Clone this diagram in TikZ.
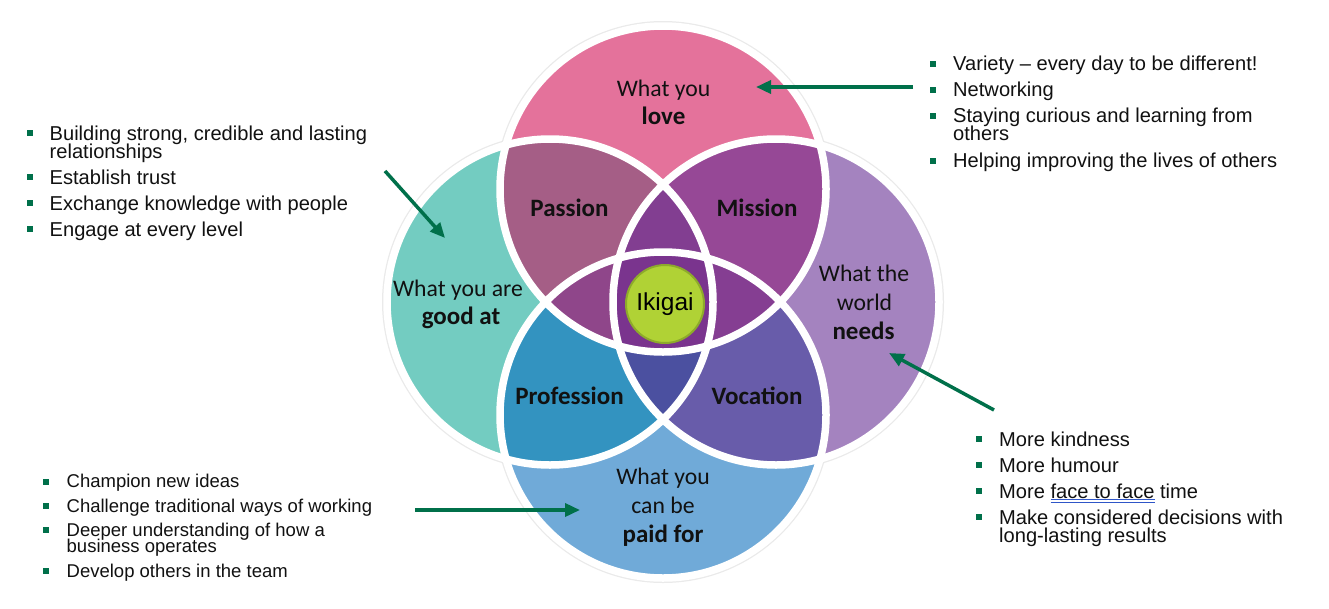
\documentclass[tikz,border=0pt]{standalone}
\usepackage{fontspec}
\setmainfont{Liberation Sans}
\newfontfamily\calfont{Carlito}
\usetikzlibrary{arrows.meta}
\definecolor{cTop}{HTML}{E4729B}
\definecolor{cLeft}{HTML}{73CCC1}
\definecolor{cRight}{HTML}{A483BF}
\definecolor{cBot}{HTML}{70AAD8}
\definecolor{cTL}{HTML}{A55E86}
\definecolor{cTR}{HTML}{964896}
\definecolor{cBL}{HTML}{3393C0}
\definecolor{cBR}{HTML}{685CAA}
\definecolor{cTLR}{HTML}{823E91}
\definecolor{cTLB}{HTML}{8F468A}
\definecolor{cTRB}{HTML}{853E92}
\definecolor{cBLR}{HTML}{4B50A0}
\definecolor{cAll}{HTML}{7A348E}
\definecolor{ikfill}{HTML}{B0D235}
\definecolor{ikline}{HTML}{8DAA2B}
\definecolor{agreen}{HTML}{00704A}
\definecolor{txt}{HTML}{111111}
\definecolor{ulblue}{HTML}{2F56C8}
\definecolor{halo}{HTML}{EAEAEA}
\newcommand\dblul[1]{\setbox0=\hbox{#1}\rlap{\color{ulblue}\rule[-2pt]{\wd0}{0.7pt}}\rlap{\color{ulblue}\rule[-4.3pt]{\wd0}{0.7pt}}\box0\relax}
\def\CT{(663,189) circle (163pt)}
\def\CB{(663,415) circle (163pt)}
\def\CL{(550,302) circle (163pt)}
\def\CR{(776,302) circle (163pt)}
\begin{document}
\begin{tikzpicture}[x=1pt,y=-1pt,
  bt/.style={anchor=base west, inner sep=0pt, text=txt, font=\fontsize{20.1}{20}\selectfont},
  bts/.style={anchor=base west, inner sep=0pt, text=txt, font=\fontsize{18.5}{19}\selectfont},
  sq/.style={fill=agreen, minimum size=6pt, inner sep=0pt, outer sep=0pt},
  lbl/.style={anchor=base, inner sep=0pt, text=txt, font=\calfont\fontsize{23.7}{24}\selectfont},
  lblb/.style={anchor=base, inner sep=0pt, text=txt, font=\calfont\bfseries\fontsize{25}{25}\selectfont},
  wline/.style={draw=white, line width=7.5pt},
  haloline/.style={draw=halo, line width=10pt},
  garrow/.style={draw=agreen, line width=3.5pt, -{Triangle[length=15pt,width=13pt]}},
  ikig/.style={circle, fill=ikfill, draw=ikline, line width=2pt, minimum size=78pt, inner sep=0pt, text=black, font=\fontsize{24.5}{25}\selectfont}
]
\fill[white] (0,0) rectangle (1329,608);
\useasboundingbox (0,0) rectangle (1329,608);

% halo
\draw[haloline] \CT; \draw[haloline] \CB; \draw[haloline] \CL; \draw[haloline] \CR;
% single fills
\fill[cTop] \CT; \fill[cBot] \CB; \fill[cLeft] \CL; \fill[cRight] \CR;
% pairs
\begin{scope}\clip \CT; \fill[cTL] \CL; \end{scope}
\begin{scope}\clip \CT; \fill[cTR] \CR; \end{scope}
\begin{scope}\clip \CB; \fill[cBL] \CL; \end{scope}
\begin{scope}\clip \CB; \fill[cBR] \CR; \end{scope}
% triples
\begin{scope}\clip \CT; \clip \CL; \fill[cTLR] \CR; \end{scope}
\begin{scope}\clip \CT; \clip \CL; \fill[cTLB] \CB; \end{scope}
\begin{scope}\clip \CT; \clip \CR; \fill[cTRB] \CB; \end{scope}
\begin{scope}\clip \CB; \clip \CL; \fill[cBLR] \CR; \end{scope}
% all four
\begin{scope}\clip \CT; \clip \CL; \clip \CR; \fill[cAll] \CB; \end{scope}
% white boundaries
\draw[wline] \CT; \draw[wline] \CB; \draw[wline] \CL; \draw[wline] \CR;

% center
\node[ikig] (ik) at (665,304) {Ikigai};

% circle labels
\node[lbl]  (lov1) at (663.5,96)  {What you};
\node[lblb] (lov2) at (663.5,124.5) {love};
\node[lbl]  (gd1) at (458,296)  {What you are};
\node[lblb] (gd2) at (461,324.5) {good at};
\node[lbl]  (wn1) at (864,281)  {What the};
\node[lbl]  (wn2) at (864.5,310) {world};
\node[lblb] (wn3) at (863.5,339) {needs};
\node[lbl]  (pd1) at (663,484)  {What you};
\node[lbl]  (pd2) at (663,513)  {can be};
\node[lblb] (pd3) at (663,542)  {paid for};
\node[lblb] (pas) at (569.5,216.5) {Passion};
\node[lblb] (mis) at (757,216.5) {Mission};
\node[lblb] (pro) at (569.5,404) {Profession};
\node[lblb] (voc) at (757,404) {Vocation};

% top-left list
\node[sq] (tlb1) at (29.5,133) {};
\node[bt] (tl1a) at (49.5,140) {Building strong, credible and lasting};
\node[bt] (tl1b) at (49.5,158) {relationships};
\node[sq] (tlb2) at (29.5,177) {};
\node[bt] (tl2) at (49.5,184) {Establish trust};
\node[sq] (tlb3) at (29.5,203) {};
\node[bt] (tl3) at (49.5,210) {Exchange knowledge with people};
\node[sq] (tlb4) at (29.5,229) {};
\node[bt] (tl4) at (49.5,236) {Engage at every level};

% top-right list
\node[sq] (trb1) at (932.5,63.5) {};
\node[bt] (tr1) at (953,70) {Variety -- every day to be different!};
\node[sq] (trb2) at (932.5,89.5) {};
\node[bt] (tr2) at (953,96) {Networking};
\node[sq] (trb3) at (932.5,115.5) {};
\node[bt] (tr3a) at (953,122) {Staying curious and learning from};
\node[bt] (tr3b) at (953,140) {others};
\node[sq] (trb4) at (932.5,160.5) {};
\node[bt] (tr4) at (953,167) {Helping improving the lives of others};

% bottom-right list
\node[sq] (brb1) at (978.5,439) {};
\node[bt] (br1) at (999,446) {More kindness};
\node[sq] (brb2) at (978.5,465) {};
\node[bt] (br2) at (999,472) {More humour};
\node[sq] (brb3) at (978.5,491) {};
\node[bt] (br3) at (999,498) {More \dblul{face to face} time};
\node[sq] (brb4) at (978.5,517) {};
\node[bt] (br4a) at (999,524) {Make considered decisions with};
\node[bt] (br4b) at (999,542) {long-lasting results};

% bottom-left list
\node[sq] (blb1) at (45.5,481.5) {};
\node[bts] (bl1) at (66.5,487) {Champion new ideas};
\node[sq] (blb2) at (45.5,506) {};
\node[bts] (bl2) at (66.5,512) {Challenge traditional ways of working};
\node[sq] (blb3) at (45.5,530) {};
\node[bts] (bl3a) at (66.5,536) {Deeper understanding of how a};
\node[bts] (bl3b) at (66.5,552) {business operates};
\node[sq] (blb4) at (45.5,571) {};
\node[bts] (bl4) at (66.5,577) {Develop others in the team};

% arrows
\coordinate (a1s) at (913,87);  \coordinate (a1e) at (756,87);
\coordinate (a2s) at (385,171); \coordinate (a2e) at (445,238);
\coordinate (a3s) at (994,410); \coordinate (a3e) at (889,353);
\coordinate (a4s) at (415,510); \coordinate (a4e) at (580,510);
\draw[garrow] (a1s) -- (a1e);
\draw[garrow] (a2s) -- (a2e);
\draw[garrow] (a3s) -- (a3e);
\draw[garrow] (a4s) -- (a4e);
\end{tikzpicture}
\end{document}
